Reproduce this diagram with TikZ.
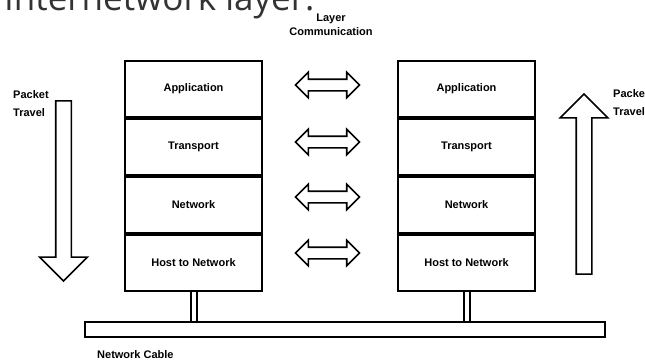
\documentclass[tikz,border=0pt]{standalone}
\usepackage{fontspec}
\setmainfont{Liberation Sans}
\newfontfamily\headfont{Open Sans}
\usetikzlibrary{shapes.arrows, positioning}

\tikzset{
  layerbox/.style={draw, line width=2pt, minimum width=137pt, minimum height=56pt, inner sep=0pt, font=\fontsize{11}{12}\selectfont\bfseries},
  peerarrow/.style={double arrow, draw, line width=1.6pt, minimum height=64pt, inner xsep=0pt, inner ysep=5pt, double arrow head extend=7pt, double arrow tip angle=90},
  travelarrow/.style={single arrow, draw, line width=1.6pt, minimum height=180pt, inner xsep=0pt, inner ysep=7pt, single arrow head extend=16pt, single arrow tip angle=90},
  smalltext/.style={inner sep=0pt, font=\fontsize{11}{18}\selectfont\bfseries},
  cablelink/.style={double, double distance=4pt, line width=2pt}
}

\begin{document}
\begin{tikzpicture}[x=1pt, y=-1pt, node distance=0pt]
\clip (0,0) rectangle (645,362);

\node[anchor=base west, inner sep=0pt, text=black!80, font=\headfont\fontsize{35}{40}\selectfont] (title) at (4,10) {Internetwork layer.};
\node[smalltext, align=center, font=\fontsize{11}{14}\selectfont\bfseries] (peerlabel) at (331,25) {Layer\\Communication};

% left host
\node[layerbox] (appA) at (193.5,89) {Application};
\node[layerbox, below=of appA] (trA) {Transport};
\node[layerbox, below=of trA] (netA) {Network};
\node[layerbox, below=of netA] (hostA) {Host to Network};

% right host
\node[layerbox] (appB) at (466.5,89) {Application};
\node[layerbox, below=of appB] (trB) {Transport};
\node[layerbox, below=of trB] (netB) {Network};
\node[layerbox, below=of netB] (hostB) {Host to Network};

\node[peerarrow] (peerapp) at (327.5,85) {};
\node[peerarrow] (peertr) at (327.5,142) {};
\node[peerarrow] (peernet) at (327.5,197) {};
\node[peerarrow] (peerhost) at (327.5,253) {};

\node[travelarrow, rotate=-90] (down) at (63.5,187) {};
\node[smalltext, align=left, anchor=west] (downlabel) at (13,104) {Packet\\Travel};
\node[travelarrow, rotate=90] (up) at (584,188) {};
\node[smalltext, align=left, anchor=west] (uplabel) at (613,103) {Packet\\Travel};

\node[draw, line width=2pt, minimum width=520pt, minimum height=15pt, inner sep=0pt] (cable) at (345,329.5) {};
\node[smalltext, anchor=west] (cablelabel) at (97,355) {Network Cable};

\draw[cablelink] (hostA.south) -- (hostA.south |- cable.north);
\draw[cablelink] (hostB.south) -- (hostB.south |- cable.north);

\end{tikzpicture}
\end{document}
